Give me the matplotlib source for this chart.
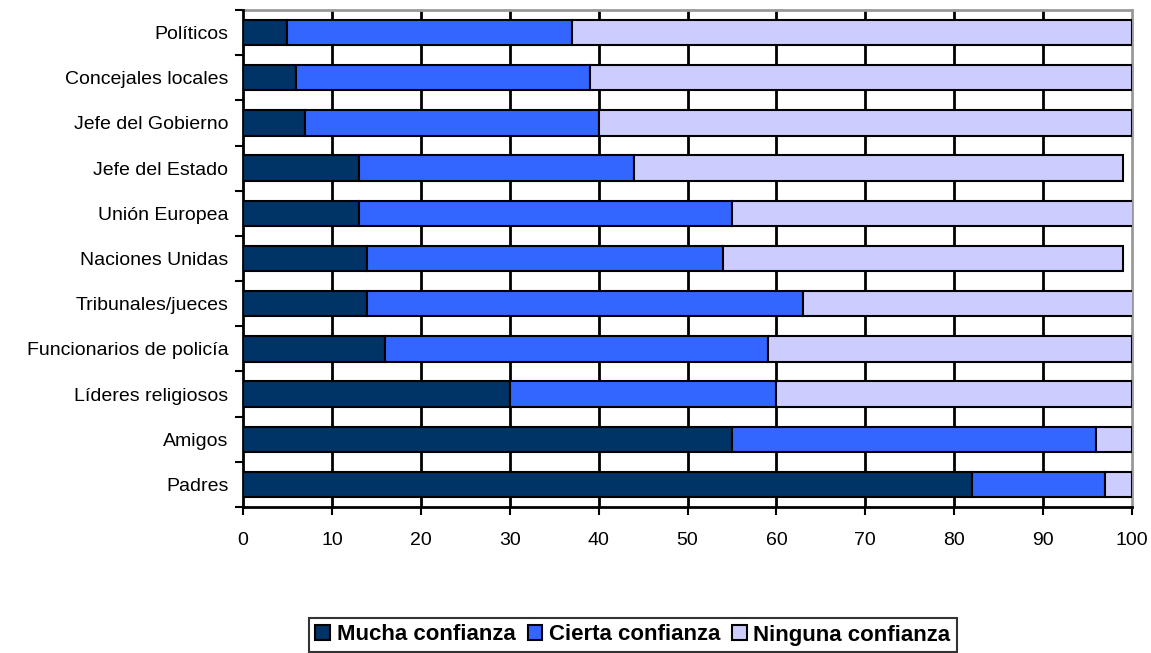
import numpy as np
import matplotlib.pyplot as plt

plt.rcParams['font.family'] = ['Liberation Sans', 'DejaVu Sans']

categorias = ['Políticos', 'Concejales locales', 'Jefe del Gobierno', 'Jefe del Estado',
              'Unión Europea', 'Naciones Unidas', 'Tribunales/jueces',
              'Funcionarios de policía', 'Líderes religiosos', 'Amigos', 'Padres']
mucha = [5, 6, 7, 13, 13, 14, 14, 16, 30, 55, 82]
cierta = [32, 33, 33, 31, 42, 40, 49, 43, 30, 41, 15]
ninguna = [63, 61, 60, 55, 46, 45, 38, 41, 40, 4, 3]
series = ['Mucha confianza', 'Cierta confianza', 'Ninguna confianza']
colores = ['#003366', '#3366FF', '#CCCCFF']

fig = plt.figure(figsize=(11.51, 6.53), dpi=100)
ax = fig.add_axes([243 / 1151, 1 - 507 / 653, (1132 - 243) / 1151, (507 - 10) / 653])

y = np.arange(len(categorias))[::-1]
left = np.zeros(len(categorias))
for vals, nombre, col in zip([mucha, cierta, ninguna], series, colores):
    ax.barh(y, vals, left=left, height=0.56, color=col, edgecolor='black',
            linewidth=1.5, label=nombre, zorder=3)
    left = left + np.array(vals)

ax.set_xlim(0, 100)
ax.set_ylim(-0.5, len(categorias) - 0.5)
ax.set_xticks(np.arange(0, 101, 10))
ax.set_yticks(y)
ax.set_yticklabels(categorias)
ax.set_yticks(np.arange(-0.5, len(categorias)), minor=True)
ax.tick_params(axis='y', which='major', length=0, pad=10.5, labelsize=14)
ax.tick_params(axis='y', which='minor', length=6, width=1.5, direction='out')
ax.tick_params(axis='x', length=6, width=1.5, direction='out', labelsize=14, pad=12)

for xv in range(10, 100, 10):
    ax.axvline(xv, color='black', linewidth=2, zorder=1)

for s in ['left', 'bottom']:
    ax.spines[s].set_linewidth(2)
    ax.spines[s].set_color('black')
for s in ['top', 'right']:
    ax.spines[s].set_linewidth(2)
    ax.spines[s].set_color('#999999')
    ax.spines[s].set_zorder(2)

leg = fig.legend(loc='center', bbox_to_anchor=(633 / 1151, 1 - 635 / 653), ncol=3,
                 prop={'weight': 'bold', 'size': 16}, frameon=True, fancybox=False,
                 edgecolor='black', handlelength=0.65, handleheight=0.65,
                 handletextpad=0.3, columnspacing=0.55, borderpad=0.3, borderaxespad=0)
leg.get_frame().set_linewidth(1.5)

fig.savefig('out.png', dpi=100)
